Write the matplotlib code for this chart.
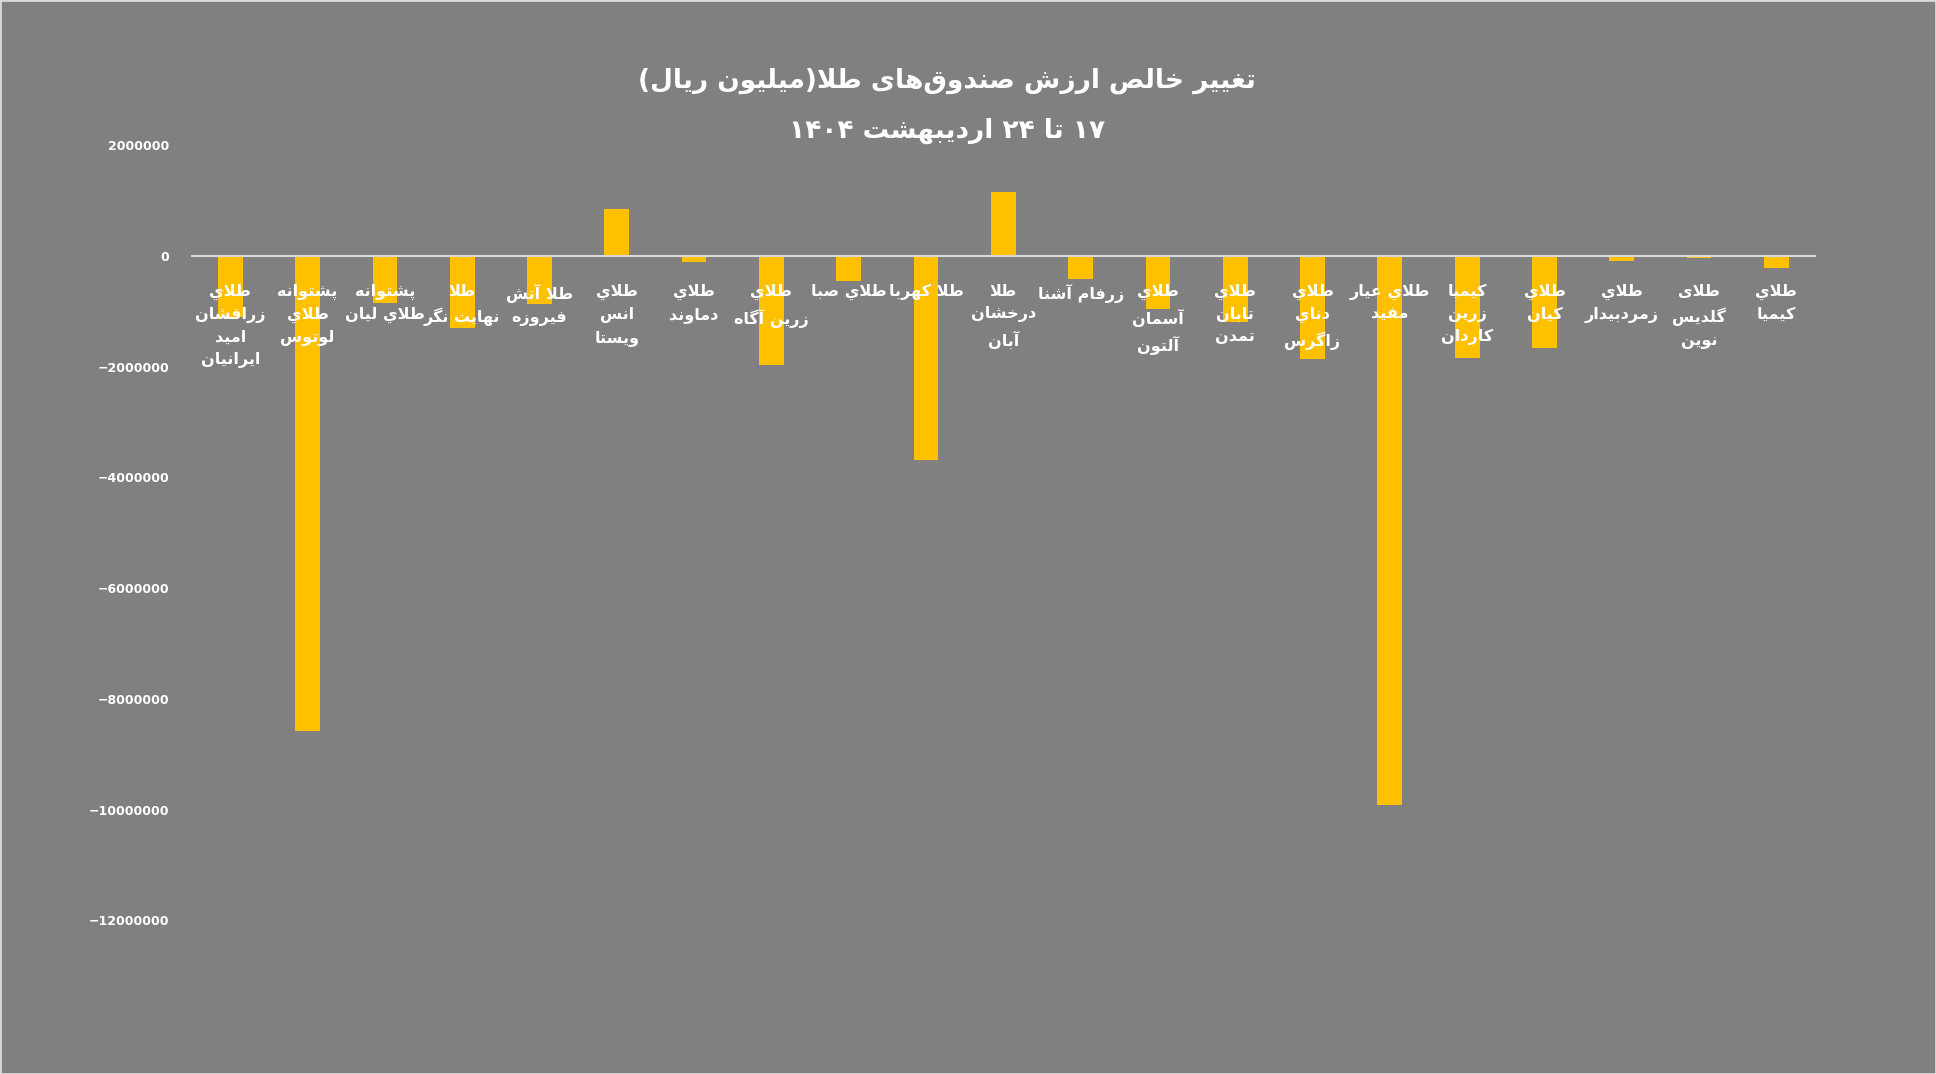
import matplotlib
matplotlib.use("Agg")
import matplotlib.pyplot as plt
from matplotlib.ticker import FuncFormatter

categories = [
    "طلاي\nزرافشان\nامید\nایرانیان", "پشتوانه\nطلاي\nلوتوس", "پشتوانه\nطلاي لیان",
    "طلا\nنهایت نگر", "طلا آتش\nفیروزه", "طلاي\nانس\nویستا", "طلاي\nدماوند",
    "طلاي\nزرین آگاه", "طلاي صبا", "طلا کهربا", "طلا\nدرخشان\nآبان", "زرفام آشنا",
    "طلاي\nآسمان\nآلتون", "طلاي\nتابان\nتمدن", "طلاي\nدناي\nزاگرس", "طلاي عیار\nمفید",
    "کیمیا\nزرین\nکاردان", "طلاي\nکیان", "طلاي\nزمردبیدار", "طلای\nگلدیس\nنوین", "طلاي\nکیمیا",
]
values = [-1100000, -8580000, -850000, -1300000, -870000, 850000, -120000,
          -1980000, -450000, -3690000, 1160000, -420000, -960000, -1200000,
          -1870000, -9910000, -1850000, -1670000, -100000, -40000, -220000]
title_lines = ["تغییر خالص ارزش صندوق‌های طلا(میلیون ریال)", "۱۷ تا ۲۴ اردیبهشت ۱۴۰۴"]

# --- minimal Arabic/Persian shaper: char -> (isolated, final, initial, medial)
F = {
 'ا': (0xFE8D, 0xFE8E, None, None), 'آ': (0xFE81, 0xFE82, None, None),
 'ب': (0xFE8F, 0xFE90, 0xFE91, 0xFE92), 'ت': (0xFE95, 0xFE96, 0xFE97, 0xFE98),
 'ث': (0xFE99, 0xFE9A, 0xFE9B, 0xFE9C), 'ج': (0xFE9D, 0xFE9E, 0xFE9F, 0xFEA0),
 'ح': (0xFEA1, 0xFEA2, 0xFEA3, 0xFEA4), 'خ': (0xFEA5, 0xFEA6, 0xFEA7, 0xFEA8),
 'د': (0xFEA9, 0xFEAA, None, None), 'ذ': (0xFEAB, 0xFEAC, None, None),
 'ر': (0xFEAD, 0xFEAE, None, None), 'ز': (0xFEAF, 0xFEB0, None, None),
 'س': (0xFEB1, 0xFEB2, 0xFEB3, 0xFEB4), 'ش': (0xFEB5, 0xFEB6, 0xFEB7, 0xFEB8),
 'ص': (0xFEB9, 0xFEBA, 0xFEBB, 0xFEBC), 'ض': (0xFEBD, 0xFEBE, 0xFEBF, 0xFEC0),
 'ط': (0xFEC1, 0xFEC2, 0xFEC3, 0xFEC4), 'ظ': (0xFEC5, 0xFEC6, 0xFEC7, 0xFEC8),
 'ع': (0xFEC9, 0xFECA, 0xFECB, 0xFECC), 'غ': (0xFECD, 0xFECE, 0xFECF, 0xFED0),
 'ف': (0xFED1, 0xFED2, 0xFED3, 0xFED4), 'ق': (0xFED5, 0xFED6, 0xFED7, 0xFED8),
 'ك': (0xFED9, 0xFEDA, 0xFEDB, 0xFEDC), 'ک': (0xFB8E, 0xFB8F, 0xFB90, 0xFB91),
 'ل': (0xFEDD, 0xFEDE, 0xFEDF, 0xFEE0), 'م': (0xFEE1, 0xFEE2, 0xFEE3, 0xFEE4),
 'ن': (0xFEE5, 0xFEE6, 0xFEE7, 0xFEE8), 'ه': (0xFEE9, 0xFEEA, 0xFEEB, 0xFEEC),
 'و': (0xFEED, 0xFEEE, None, None), 'ي': (0xFEF1, 0xFEF2, 0xFEF3, 0xFEF4),
 'ی': (0xFBFC, 0xFBFD, 0xFBFE, 0xFBFF), 'پ': (0xFB56, 0xFB57, 0xFB58, 0xFB59),
 'گ': (0xFB92, 0xFB93, 0xFB94, 0xFB95), 'چ': (0xFB7A, 0xFB7B, 0xFB7C, 0xFB7D),
 'ژ': (0xFB8A, 0xFB8B, None, None),
}
LAM_ALEF = {'ا': (0xFEFB, 0xFEFC), 'آ': (0xFEF5, 0xFEF6)}

def dual(c):
    return c in F and F[c][2] is not None

def shape_line(s):
    s = s.replace('\u200c', '\u200b')
    chars = list(s)
    out = []
    i = 0
    n = len(chars)
    while i < n:
        c = chars[i]
        if c not in F:
            out.append(c); i += 1; continue
        prev = chars[i - 1] if i > 0 else None
        jp = prev is not None and dual(prev)
        if c == 'ل' and i + 1 < n and chars[i + 1] in LAM_ALEF:
            iso, fin = LAM_ALEF[chars[i + 1]]
            out.append(chr(fin if jp else iso)); i += 2; continue
        nxt = chars[i + 1] if i + 1 < n else None
        jn = dual(c) and nxt is not None and nxt in F
        iso, fin, ini, med = F[c]
        if jp and jn: g = med
        elif jp: g = fin
        elif jn: g = ini
        else: g = iso
        out.append(chr(g)); i += 1
    rev = out[::-1]
    res, run = [], []
    for ch in rev:
        if ch.isdigit():
            run.append(ch)
        else:
            if run:
                res.extend(run[::-1]); run = []
            res.append({'(': ')', ')': '('}.get(ch, ch))
    if run:
        res.extend(run[::-1])
    return ''.join(res).replace('\u200b', '')

def shape(s):
    return '\n'.join(shape_line(l) for l in s.split('\n'))

plt.rcParams['font.family'] = ['DejaVu Sans']
bg = '#808080'
fig = plt.figure(figsize=(19.36, 10.74), dpi=100, facecolor=bg)
ax = fig.add_axes([0.099, 0.143, 0.8385, 0.722], facecolor=bg)

x = list(range(len(categories)))
ax.bar(x, values, width=0.32, color='#FFC000', zorder=2)
ax.set_ylim(-12000000, 2000000)
ax.set_xlim(-0.5, len(categories) - 0.5)
ax.set_yticks(range(-12000000, 2000001, 2000000))
ax.yaxis.set_major_formatter(FuncFormatter(lambda v, p: f"{int(v)}".replace('-', '\u2212')))
ax.tick_params(axis='y', length=0, colors='white', labelsize=9, pad=16)
for lab in ax.get_yticklabels():
    lab.set_fontweight('bold')
ax.set_xticks([])
for s in ['top', 'right', 'left']:
    ax.spines[s].set_visible(False)
ax.spines['bottom'].set_position(('data', 0))
ax.spines['bottom'].set_color('#D9D9D9')
ax.spines['bottom'].set_linewidth(1.5)
ax.spines['bottom'].set_zorder(3)

for xi, c in zip(x, categories):
    ax.annotate(shape(c), xy=(xi, 0), xytext=(0, -20), textcoords='offset points',
                ha='center', va='top', color='white', fontsize=11.5, fontweight='bold',
                linespacing=1.6, zorder=4)

fig.text(0.489, 1 - 81 / 1074, shape(title_lines[0]), ha='center', va='center',
         color='white', fontsize=19, fontweight='bold')
fig.text(0.489, 1 - 131 / 1074, shape(title_lines[1]), ha='center', va='center',
         color='white', fontsize=19, fontweight='bold')

fig.patches.append(plt.Rectangle((0, 0), 1, 1, transform=fig.transFigure, fill=False,
                                 edgecolor='#D9D9D9', linewidth=2))
fig.savefig('out.png', dpi=100, facecolor=bg)
